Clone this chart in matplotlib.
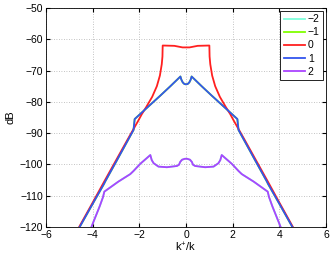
import numpy as np
import matplotlib
matplotlib.use("Agg")
import matplotlib.pyplot as plt

plt.rcParams['font.family'] = ['Liberation Sans', 'DejaVu Sans']
plt.rcParams['mathtext.default'] = 'regular'

# mode 0
k_0 = [-4.58, -4.0, -3.5, -3.0, -2.5, -2.03, -1.9, -1.7, -1.45, -1.25, -1.12, -1.04, -1.01, -1.0,
       -0.5, -0.15, 0.0, 0.15, 0.5,
       1.0, 1.01, 1.04, 1.12, 1.25, 1.45, 1.7, 1.9, 2.03, 2.5, 3.0, 3.5, 4.0, 4.58]
db_0 = [-120.0, -112.2, -105.4, -98.7, -92.0, -85.8, -84.0, -81.6, -78.4, -75.0, -71.6, -68.0, -65.5, -62.0,
        -62.1, -62.6, -62.6, -62.6, -62.1,
        -62.0, -65.5, -68.0, -71.6, -75.0, -78.4, -81.6, -84.0, -85.8, -92.0, -98.7, -105.4, -112.2, -120.0]

# mode 1
k_1 = [-4.58, -4.0, -3.52, -3.46, -3.0, -2.5, -2.25, -2.2, -1.6, -1.1, -0.67, -0.24,
       -0.2, -0.14, -0.07, 0.0, 0.07, 0.14, 0.2,
       0.24, 0.67, 1.1, 1.6, 2.2, 2.25, 2.5, 3.0, 3.46, 3.52, 4.0, 4.58]
db_1 = [-120.3, -112.6, -106.3, -105.4, -99.2, -92.4, -89.0, -85.5, -81.4, -78.0, -75.0, -71.9,
        -72.9, -73.8, -74.3, -74.4, -74.3, -73.8, -72.9,
        -71.9, -75.0, -78.0, -81.4, -85.5, -89.0, -92.4, -99.2, -105.4, -106.3, -112.6, -120.3]

# mode 2
k_2 = [-4.08, -3.98, -3.84, -3.7, -3.56, -3.5, -2.9, -2.39, -2.25, -2.2, -1.96, -1.53,
       -1.47, -1.39, -1.18, -0.82, -0.39, -0.3, -0.25, -0.17, -0.05,
       0.05, 0.17, 0.25, 0.3, 0.39, 0.82, 1.18, 1.39, 1.47,
       1.53, 1.96, 2.2, 2.25, 2.39, 2.9, 3.5, 3.56, 3.7, 3.84, 3.98, 4.08]
db_2 = [-120.5, -118.6, -116.0, -113.4, -110.5, -108.7, -105.5, -103.1, -102.1, -101.7, -99.8, -97.0,
        -98.6, -99.6, -100.7, -100.9, -100.5, -100.1, -99.2, -98.5, -98.2,
        -98.2, -98.5, -99.2, -100.1, -100.5, -100.9, -100.7, -99.6, -98.6,
        -97.0, -99.8, -101.7, -102.1, -103.1, -105.5, -108.7, -110.5, -113.4, -116.0, -118.6, -120.5]

# modes -1 and -2 coincide with 1 and 2 (hidden underneath)
k_m1, db_m1 = k_1, db_1
k_m2, db_m2 = k_2, db_2

labels = ['\u22122', '\u22121', '0', '1', '2']
colors = ['#80ffdc', '#80ff00', '#ff2020', '#3355ee', '#aa44ff']
series = [(k_m2, db_m2), (k_m1, db_m1), (k_0, db_0), (k_1, db_1), (k_2, db_2)]

fig = plt.figure(figsize=(3.31, 2.59), dpi=100)
ax = fig.add_axes([0.139, 0.1236, 0.846, 0.8456])

for (k, db), lab, c in zip(series, labels, colors):
    ax.plot(k, db, color=c, lw=1.3, label=lab)

ax.set_xlim(-6, 6)
ax.set_ylim(-120, -50)
ax.set_xticks(np.arange(-6, 7, 2))
ax.set_yticks(np.arange(-120, -49, 10))
ax.set_xticklabels([str(v).replace('-', '\u2212') for v in range(-6, 7, 2)])
ax.set_yticklabels([str(v).replace('-', '\u2212') for v in range(-120, -49, 10)])
ax.tick_params(direction='in', length=3, labelsize=7.5, top=True, right=True, pad=2)
ax.grid(True, linestyle=(0, (1, 2)), color='#b0b0b0', lw=0.6)
for s in ax.spines.values():
    s.set_linewidth(0.6)

ax.set_xlabel(r'k$^{+}$/k', fontsize=8, labelpad=1)
ax.set_ylabel('dB', fontsize=8, labelpad=3)

leg = ax.legend(loc='upper right', fontsize=7.5, handlelength=2.0, handletextpad=0.3,
                borderpad=0.35, labelspacing=0.3, fancybox=False, framealpha=1,
                borderaxespad=0.25)
leg.get_frame().set_edgecolor('black')
leg.get_frame().set_linewidth(0.6)

fig.savefig('out.png', dpi=100)
